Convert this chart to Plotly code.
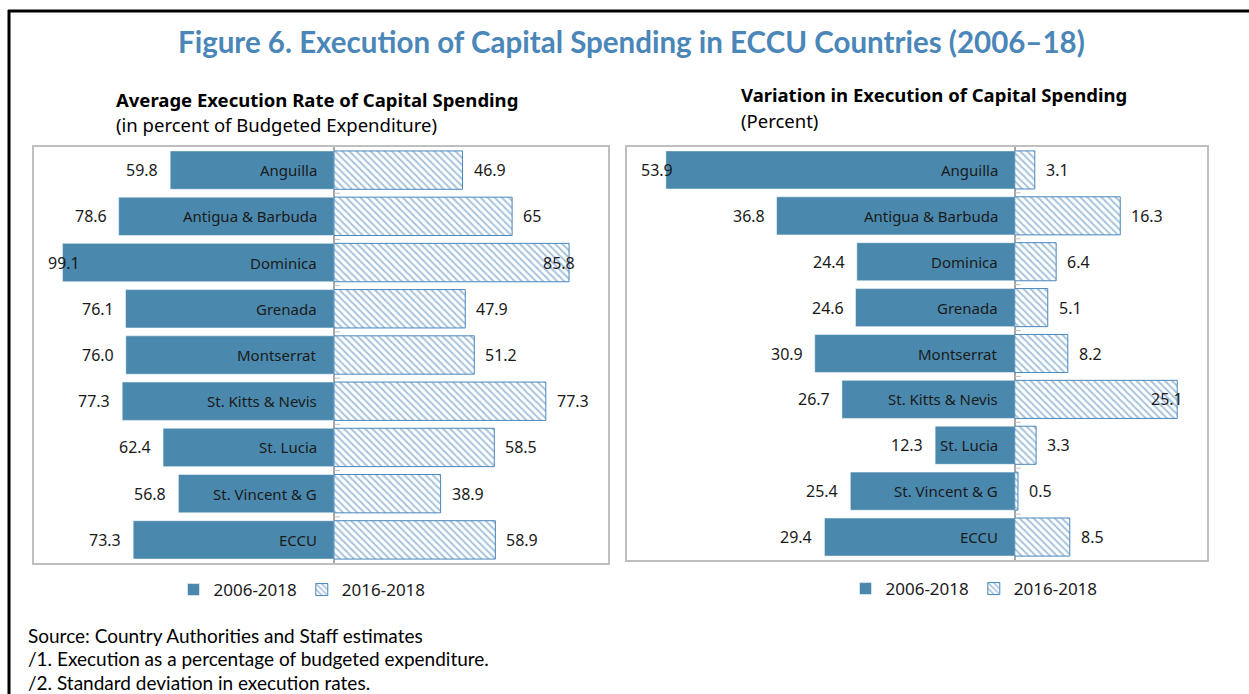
import plotly.graph_objects as go

# ---------------- data ----------------
countries = ["Anguilla", "Antigua & Barbuda", "Dominica", "Grenada", "Montserrat",
             "St. Kitts & Nevis", "St. Lucia", "St. Vincent & G", "ECCU"]
avg_0618 = [59.8, 78.6, 99.1, 76.1, 76.0, 77.3, 62.4, 56.8, 73.3]
avg_1618 = [46.9, 65, 85.8, 47.9, 51.2, 77.3, 58.5, 38.9, 58.9]
avg_0618_txt = ["59.8", "78.6", "99.1", "76.1", "76.0", "77.3", "62.4", "56.8", "73.3"]
avg_1618_txt = ["46.9", "65", "85.8", "47.9", "51.2", "77.3", "58.5", "38.9", "58.9"]
var_0618 = [53.9, 36.8, 24.4, 24.6, 30.9, 26.7, 12.3, 25.4, 29.4]
var_1618 = [3.1, 16.3, 6.4, 5.1, 8.2, 25.1, 3.3, 0.5, 8.5]
series_names = ["2006-2018", "2016-2018"]

# ---------------- style ----------------
W, H = 1249, 694
SOLID = "#4a89ad"
HATCH = "#4a87bb"
TITLE_C = "#4a86b8"
TXT = "#1a1a1a"
BOX = "#bfbfbf"
FONT = "Noto Sans"
CAT_SIZE = 15
VAL_SIZE = 16

def px(x):
    return x / W

def py(y):
    return 1 - y / H

# panel plot areas in pixels (left, top, right, bottom)
P1 = (34, 147, 608, 563)
P2 = (627, 147, 1207, 560)
R1 = [-109.5, 100.0]
R2 = [-59.9, 29.7]

fig = go.Figure()

def add_panel(xa, ya, leg, left, right, rng, area, ltxt=None, rtxt=None):
    ltxt = ltxt or [f"{v:.1f}" for v in left]
    rtxt = rtxt or [f"{v:.1f}" for v in right]
    fig.add_trace(go.Bar(
        y=countries, x=[-v for v in left], orientation="h", name=series_names[0],
        marker=dict(color=SOLID, line=dict(color="#ffffff", width=0.5)),
        xaxis=xa, yaxis=ya, legend=leg, hoverinfo="skip"))
    fig.add_trace(go.Bar(
        y=countries, x=right, orientation="h", name=series_names[1],
        marker=dict(color="#ffffff", line=dict(color=HATCH, width=1),
                    pattern=dict(shape="\\", fgcolor=HATCH, bgcolor="#ffffff",
                                 size=5, solidity=0.4)),
        xaxis=xa, yaxis=ya, legend=leg, hoverinfo="skip"))
    pw = area[2] - area[0]
    ppu = pw / (rng[1] - rng[0])
    xr = "x" if xa == "x" else "x2"
    yr = "y" if ya == "y" else "y2"
    vfont = dict(family=FONT, size=VAL_SIZE, color=TXT)
    for c, lv, rv, lt, rt in zip(countries, left, right, ltxt, rtxt):
        # category name inside the left bar
        fig.add_annotation(x=0, y=c, xref=xr, yref=yr, text=c, showarrow=False,
                           xanchor="right", xshift=-15,
                           font=dict(family=FONT, size=CAT_SIZE, color=TXT))
        # left value label
        tw = 9.2 * len(lt)
        bar_px = (-lv - rng[0]) * ppu
        if bar_px - 10 - tw < 4:
            fig.add_annotation(x=rng[0], y=c, xref=xr, yref=yr, text=lt, showarrow=False,
                               xanchor="left", xshift=12 if bar_px < 60 else 6, font=vfont)
        else:
            fig.add_annotation(x=-lv, y=c, xref=xr, yref=yr, text=lt, showarrow=False,
                               xanchor="right", xshift=-10, font=vfont)
        # right value label
        tw = 9.2 * len(rt)
        bar_px = (rv - rng[0]) * ppu
        if bar_px + 9 + tw > pw - 4:
            fig.add_annotation(x=rv, y=c, xref=xr, yref=yr, text=rt, showarrow=False,
                               xanchor="right", xshift=8, font=vfont)
        else:
            fig.add_annotation(x=rv, y=c, xref=xr, yref=yr, text=rt, showarrow=False,
                               xanchor="left", xshift=9, font=vfont)
    # small tick marks on the zero line at category boundaries
    for i in range(len(countries) - 1):
        fig.add_shape(type="line", xref=xr, yref=yr, xsizemode="pixel", xanchor=0,
                      x0=0, x1=6, y0=i + 0.5, y1=i + 0.5,
                      line=dict(color=BOX, width=1))

add_panel("x", "y", "legend", avg_0618, avg_1618, R1, P1, avg_0618_txt, avg_1618_txt)
add_panel("x2", "y2", "legend2", var_0618, var_1618, R2, P2)

axis_common = dict(showgrid=False, showticklabels=False, ticks="",
                   showline=True, mirror=True, linecolor=BOX, linewidth=2)
leg_common = dict(orientation="h", xanchor="center", yanchor="middle",
                  font=dict(family=FONT, size=17, color=TXT), itemwidth=30,
                  bgcolor="rgba(0,0,0,0)", itemclick=False, itemdoubleclick=False,
                  tracegroupgap=0)
fig.update_layout(
    width=W, height=H,
    margin=dict(l=0, r=0, t=0, b=0),
    paper_bgcolor="white", plot_bgcolor="white",
    barmode="relative", bargap=0.17,
    font=dict(family=FONT, color=TXT),
    xaxis=dict(domain=[px(P1[0]), px(P1[2])], range=R1, zeroline=True,
               zerolinecolor="#a6a6a6", zerolinewidth=1.5, fixedrange=True, **axis_common),
    yaxis=dict(domain=[py(P1[3]), py(P1[1])], anchor="x", autorange="reversed",
               fixedrange=True, **axis_common),
    xaxis2=dict(domain=[px(P2[0]), px(P2[2])], range=R2, anchor="y2", zeroline=True,
                zerolinecolor="#a6a6a6", zerolinewidth=1.5, fixedrange=True, **axis_common),
    yaxis2=dict(domain=[py(P2[3]), py(P2[1])], anchor="x2", autorange="reversed",
                fixedrange=True, **axis_common),
    legend=dict(x=px(302), y=py(590), **leg_common),
    legend2=dict(x=px(974), y=py(589), **leg_common),
    showlegend=True,
)

# main title
fig.add_annotation(text="<b>Figure 6. Execution of Capital Spending in ECCU Countries (2006\u201318)</b>",
                   xref="paper", yref="paper", x=px(631), y=py(42), showarrow=False,
                   xanchor="center", yanchor="middle",
                   font=dict(family="Lato", size=29.5, color=TITLE_C))
# panel subtitles
sub_b = dict(family=FONT, size=18.5, color="#000")
fig.add_annotation(text="<b>Average Execution Rate of Capital Spending</b>",
                   xref="paper", yref="paper", x=px(114), y=py(100), showarrow=False,
                   xanchor="left", yanchor="middle", font=sub_b)
fig.add_annotation(text="(in percent of Budgeted Expenditure)",
                   xref="paper", yref="paper", x=px(114), y=py(125), showarrow=False,
                   xanchor="left", yanchor="middle", font=sub_b)
fig.add_annotation(text="<b>Variation in Execution of Capital Spending</b>",
                   xref="paper", yref="paper", x=px(739), y=py(95), showarrow=False,
                   xanchor="left", yanchor="middle", font=sub_b)
fig.add_annotation(text="(Percent)",
                   xref="paper", yref="paper", x=px(739), y=py(120), showarrow=False,
                   xanchor="left", yanchor="middle", font=sub_b)
# footnotes
notes = ["Source: Country Authorities and Staff estimates",
         "/1. Execution as a percentage of budgeted expenditure.",
         "/2. Standard deviation in execution rates."]
for i, t in enumerate(notes):
    fig.add_annotation(text=t, xref="paper", yref="paper", x=px(26), y=py(635 + 23.5 * i),
                       showarrow=False, xanchor="left", yanchor="middle",
                       font=dict(family="Lato", size=19, color="#000"))

# black frame (top and left)
fig.add_shape(type="line", xref="paper", yref="paper", x0=px(8), x1=1.0, y0=py(11), y1=py(11),
              line=dict(color="#000", width=3))
fig.add_shape(type="line", xref="paper", yref="paper", x0=px(9), x1=px(9), y0=py(10), y1=0,
              line=dict(color="#000", width=3))

fig.write_html("out.html", config={"displayModeBar": False},
               post_script="document.body.style.margin='0';document.body.style.overflow='hidden';")
